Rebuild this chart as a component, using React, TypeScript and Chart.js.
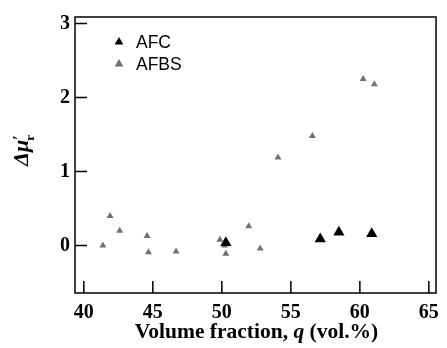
import React, { useEffect, useRef } from "react";
import { Chart, registerables } from "chart.js";

Chart.register(...registerables);

const afcX = [50.29, 57.13, 58.48, 60.86];
const afcY = [0.04, 0.09, 0.18, 0.16];

const afbsX = [41.38, 41.9, 42.6, 44.58, 44.68, 46.68, 49.86, 50.2, 50.29, 51.95, 52.78, 54.07, 56.56, 60.24, 61.05];
const afbsY = [0.0, 0.4, 0.2, 0.13, -0.09, -0.08, 0.08, 0.0, -0.11, 0.26, -0.04, 1.19, 1.48, 2.25, 2.18];

const xTicks = [40, 45, 50, 55, 60, 65];
const yTicks = [0, 1, 2, 3];

const seriesNames = ["AFC", "AFBS"];
const xTitleParts = ["Volume fraction, ", "q", " (vol.%)"];

const SERIF = '"Liberation Serif", "Times New Roman", serif';
const SANS = '"Liberation Sans", Arial, sans-serif';

const framePlugin = {
  id: "frame",
  afterDraw(chart: any) {
    const { ctx, chartArea: a, scales } = chart;
    ctx.save();
    ctx.strokeStyle = "#000";
    ctx.lineWidth = 1.5;
    ctx.strokeRect(a.left, a.top, a.right - a.left, a.bottom - a.top);
    ctx.beginPath();
    for (const v of yTicks) {
      const y = scales.y.getPixelForValue(v);
      ctx.moveTo(a.left, y);
      ctx.lineTo(a.left + 12, y);
    }
    for (const v of xTicks) {
      const x = scales.x.getPixelForValue(v);
      ctx.moveTo(x, a.bottom);
      ctx.lineTo(x, a.bottom - 12);
    }
    ctx.stroke();

    // x title
    ctx.fillStyle = "#000";
    ctx.textBaseline = "alphabetic";
    const fonts = [`bold 21.5px ${SERIF}`, `italic bold 21.5px ${SERIF}`, `bold 21.5px ${SERIF}`];
    let total = 0;
    const widths = xTitleParts.map((t, i) => {
      ctx.font = fonts[i];
      const w = ctx.measureText(t).width;
      total += w;
      return w;
    });
    let x = (a.left + a.right) / 2 + 1 - total / 2;
    xTitleParts.forEach((t, i) => {
      ctx.font = fonts[i];
      ctx.fillText(t, x, 338);
      x += widths[i];
    });

    // y title (rotated)
    ctx.save();
    ctx.translate(28, 150);
    ctx.rotate(-Math.PI / 2);
    ctx.font = `italic bold 22px ${SERIF}`;
    const main = "\u0394\u03BC";
    const wMain = ctx.measureText(main).width;
    ctx.font = `bold 16px ${SERIF}`;
    const wPrime = ctx.measureText("\u2032").width;
    ctx.font = `bold 13px ${SERIF}`;
    const wSub = ctx.measureText("r").width;
    let sx = -(wMain + Math.max(wPrime, wSub)) / 2;
    ctx.font = `italic bold 22px ${SERIF}`;
    ctx.fillText(main, sx, 0);
    sx += wMain;
    ctx.font = `bold 16px ${SERIF}`;
    ctx.fillText("\u2032", sx, -4);
    ctx.font = `bold 13px ${SERIF}`;
    ctx.fillText("r", sx - 1, 6);
    ctx.restore();

    // legend
    const ds = chart.data.datasets;
    const rows = [42, 64];
    ds.forEach((d: any, i: number) => {
      const cx = 119;
      const cy = rows[i];
      const r = 5;
      ctx.fillStyle = d.backgroundColor;
      ctx.beginPath();
      ctx.moveTo(cx, cy - r);
      ctx.lineTo(cx + r * Math.sin((2 * Math.PI) / 3), cy - r * Math.cos((2 * Math.PI) / 3));
      ctx.lineTo(cx + r * Math.sin((4 * Math.PI) / 3), cy - r * Math.cos((4 * Math.PI) / 3));
      ctx.closePath();
      ctx.fill();
      ctx.fillStyle = "#000";
      ctx.font = `17.5px ${SANS}`;
      ctx.textBaseline = "middle";
      ctx.fillText(d.label, 136, cy + 1);
    });
    ctx.restore();
  },
};

export default function App() {
  const ref = useRef<HTMLCanvasElement>(null);
  useEffect(() => {
    if (!ref.current) return;
    const chart = new Chart(ref.current, {
      type: "scatter",
      data: {
        datasets: [
          {
            label: seriesNames[0],
            data: afcX.map((x, i) => ({ x, y: afcY[i] })),
            pointStyle: "triangle",
            pointRadius: 6.5,
            borderWidth: 0,
            backgroundColor: "#000000",
            borderColor: "#000000",
          },
          {
            label: seriesNames[1],
            data: afbsX.map((x, i) => ({ x, y: afbsY[i] })),
            pointStyle: "triangle",
            pointRadius: 4,
            borderWidth: 0,
            backgroundColor: "#707070",
            borderColor: "#707070",
          },
        ],
      },
      options: {
        responsive: false,
        animation: false,
        layout: { padding: { top: 13, right: 5, left: 0, bottom: 0 } },
        plugins: { legend: { display: false }, tooltip: { enabled: false } },
        scales: {
          x: {
            type: "linear",
            min: 39.36,
            max: 65.52,
            grid: { display: false, drawTicks: false },
            border: { display: false },
            afterBuildTicks: (s: any) => {
              s.ticks = xTicks.map((v) => ({ value: v }));
            },
            afterFit: (s: any) => {
              s.height = 55;
            },
            ticks: {
              color: "#000",
              padding: 8,
              font: { family: SERIF, size: 20, weight: "bold" },
              callback: (v: any) => String(v),
            },
          },
          y: {
            type: "linear",
            min: -0.64,
            max: 3.087,
            grid: { display: false, drawTicks: false },
            border: { display: false },
            afterBuildTicks: (s: any) => {
              s.ticks = yTicks.map((v) => ({ value: v }));
            },
            afterFit: (s: any) => {
              s.width = 75;
            },
            ticks: {
              color: "#000",
              padding: 5,
              font: { family: SERIF, size: 20, weight: "bold" },
              callback: (v: any) => String(v),
            },
          },
        },
      },
      plugins: [framePlugin],
    });
    return () => chart.destroy();
  }, []);
  return (
    <div style={{ position: "absolute", left: 0, top: 0, width: 447, height: 348, background: "#fff" }}>
      <canvas ref={ref} width={447} height={348} />
    </div>
  );
}
